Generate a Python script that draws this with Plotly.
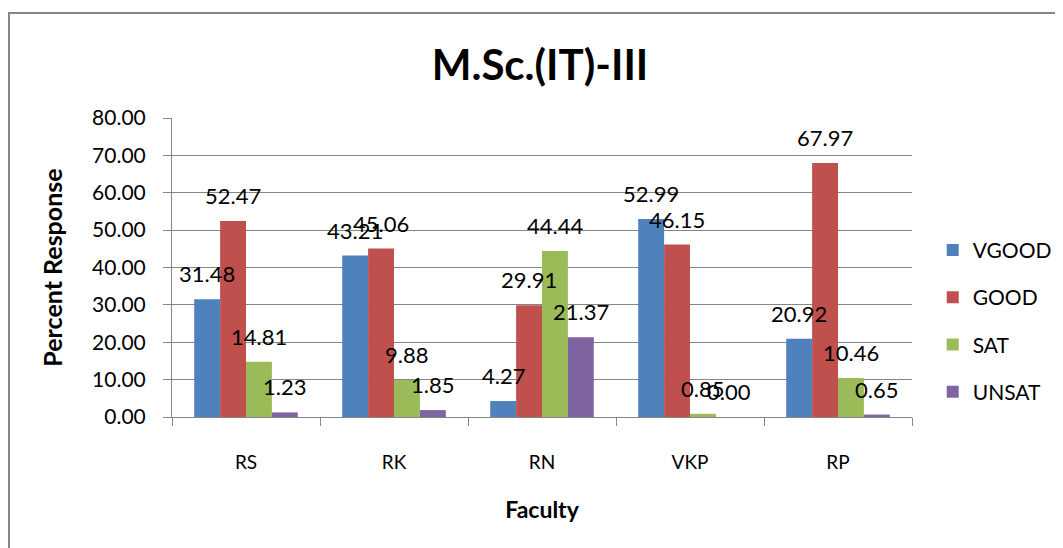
import plotly.graph_objects as go

categories = ["RS", "RK", "RN", "VKP", "RP"]
series_names = ["VGOOD", "GOOD", "SAT", "UNSAT"]
vgood = [31.48, 43.21, 4.27, 52.99, 20.92]
good = [52.47, 45.06, 29.91, 46.15, 67.97]
sat = [14.81, 9.88, 44.44, 0.85, 10.46]
unsat = [1.23, 1.85, 21.37, 0.00, 0.65]
colors = ["#4F81BD", "#C0504D", "#9BBB59", "#8064A2"]

all_series = [vgood, good, sat, unsat]
FONT = "Lato"

fig = go.Figure()
for i, (name, vals) in enumerate(zip(series_names, all_series)):
    fig.add_trace(go.Bar(
        x=categories, y=vals, name=name, marker_color=colors[i],
        marker_line_width=0, legendgroup=name,
    ))

# data labels
bar_px = 148 * 0.7 / 4
for i, vals in enumerate(all_series):
    for c, v in zip(categories, vals):
        fig.add_annotation(
            x=c, y=v, text=f"{v:.2f}", showarrow=False,
            xref="x", yref="y", xshift=(i - 1.5) * bar_px,
            yanchor="bottom", yshift=10,
            font=dict(family=FONT, size=22, color="black"),
        )

# chart frame
fig.add_shape(type="rect", xref="paper", yref="paper",
              x0=-0.2203, x1=1.5, y0=-0.8, y1=1.351,
              line=dict(color="#868686", width=2), layer="below")

fig.update_layout(
    width=1063, height=548,
    margin=dict(l=164, r=159, t=110, b=139, autoexpand=False),
    paper_bgcolor="white", plot_bgcolor="white",
    barmode="group", bargap=0.3, bargroupgap=0,
    font=dict(family=FONT, color="black"),
    title=dict(text="<b>M.Sc.(IT)-III</b>", x=0.5005, xanchor="center",
               y=0.896, yanchor="middle",
               font=dict(family=FONT, size=42, color="black")),
    legend=dict(x=1.028, xanchor="left", y=0.32, yanchor="middle",
                font=dict(family=FONT, size=21, color="black"),
                tracegroupgap=17, itemwidth=30, bgcolor="rgba(0,0,0,0)"),
    showlegend=True,
)
fig.update_yaxes(
    range=[0, 80], dtick=10, tickformat=".2f", automargin=False,
    showgrid=True, gridcolor="#868686", gridwidth=1,
    showline=True, linecolor="#868686", linewidth=1,
    ticks="outside", ticklen=8, tickcolor="#868686",
    ticklabelstandoff=13,
    tickfont=dict(family=FONT, size=21, color="black"),
    title=dict(text="<b>Percent Response</b>", standoff=22,
               font=dict(family=FONT, size=25, color="black")),
    zeroline=False,
)
fig.update_xaxes(
    showline=True, linecolor="#868686", linewidth=1, automargin=False,
    ticks="outside", ticklen=8, tickcolor="#868686", tickson="boundaries",
    ticklabelstandoff=28,
    tickfont=dict(family=FONT, size=19, color="black"),
    title=dict(text="<b>Faculty</b>", standoff=30,
               font=dict(family=FONT, size=23, color="black")),
)

fig.write_html("out.html")
